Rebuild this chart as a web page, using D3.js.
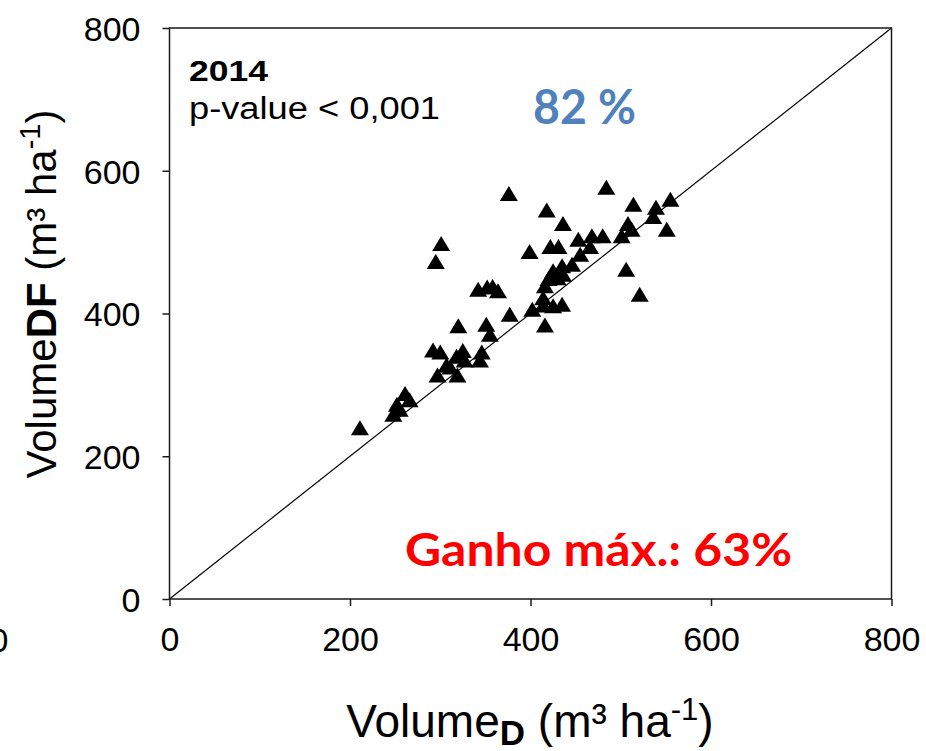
<!DOCTYPE html>
<html>
<head>
<meta charset="utf-8">
<script src="https://cdn.jsdelivr.net/npm/d3@7"></script>
<style>
  body { margin: 0; background: #fff; }
  svg { display: block; }
  text { font-family: "Liberation Sans", Arial, sans-serif; }
</style>
</head>
<body>
<div id="chart"></div>
<script>
// Observed stand volumes, 2014: D (x) against DF (y), m³ ha-1
const volumeD = [211, 248, 252, 261, 266, 255, 292, 300, 307, 297, 311, 319, 325, 327, 320,
  344, 346, 351, 355, 295, 301, 342, 352, 358, 364, 377, 376, 399, 402, 414, 416, 418, 422,
  431, 425, 435, 414, 416, 420, 425, 436, 435, 446, 436, 453, 455, 466, 468, 480, 484, 501,
  508, 512, 514, 506, 521, 539, 536, 555, 551, 318, 430];
const volumeDF = [240, 259, 273, 288, 279, 266, 349, 346, 328, 314, 325, 314, 348, 335, 383,
  335, 346, 385, 371, 473, 498, 434, 437, 438, 432, 399, 568, 487, 406, 412, 384, 545, 494,
  494, 411, 413, 422, 439, 449, 460, 455, 467, 469, 526, 504, 483, 494, 509, 509, 577, 509,
  526, 518, 553, 462, 427, 549, 536, 560, 518, 340, 450];
const xTicks = [0, 200, 400, 600, 800];
const yTicks = [0, 200, 400, 600, 800];

const W = 926, H = 751;
const svg = d3.select("#chart").append("svg").attr("width", W).attr("height", H);

const x = d3.scaleLinear().domain([0, 800]).range([169.5, 891.5]);
const y = d3.scaleLinear().domain([0, 800]).range([599, 28]);
const axisColor = "#1a1a1a";

// 1:1 reference line
svg.append("line")
  .attr("x1", x(0)).attr("y1", y(0)).attr("x2", x(800)).attr("y2", y(800))
  .attr("stroke", "#000").attr("stroke-width", 1.2);

// Axes: left + bottom with outward ticks, plus a closing frame
const yAxis = d3.axisLeft(y).tickValues(yTicks).tickSize(7).tickPadding(22).tickFormat(d3.format("d"));
const xAxis = d3.axisBottom(x).tickValues(xTicks).tickSize(7).tickPadding(21).tickFormat(d3.format("d"));

const gy = svg.append("g").attr("transform", `translate(${x(0)},0)`).call(yAxis);
const gx = svg.append("g").attr("transform", `translate(0,${y(0)})`).call(xAxis);
[gx, gy].forEach(g => {
  g.select(".domain").remove();
  g.selectAll(".tick line").attr("stroke", axisColor).attr("stroke-width", 1.5);
  g.selectAll(".tick text").attr("fill", "#000").style("font-size", "34px")
    .style("font-family", "'Liberation Sans', Arial, sans-serif");
});
gy.selectAll(".tick text").attr("dy", "0.36em");
gx.selectAll(".tick text").attr("dy", "0.72em");

// label partly outside the left edge of the x axis row
svg.append("text").attr("x", x(-189)).attr("y", y(0) + 53)
  .attr("text-anchor", "middle").style("font-size", "34px").text("0");

// plot frame
svg.append("rect")
  .attr("x", x(0)).attr("y", y(800))
  .attr("width", x(800) - x(0)).attr("height", y(0) - y(800))
  .attr("fill", "none").attr("stroke", axisColor).attr("stroke-width", 1.5);

// Triangle markers centred on their bounding box
const tw = 18, th = 15;
const tri = `M0,${-th / 2}L${tw / 2},${th / 2}L${-tw / 2},${th / 2}Z`;
svg.append("g").selectAll("path")
  .data(volumeD.map((d, i) => [d, volumeDF[i]]))
  .join("path")
  .attr("d", tri)
  .attr("transform", d => `translate(${x(d[0])},${y(d[1])})`)
  .attr("fill", "#000");

// Annotations
svg.append("text").attr("x", 189).attr("y", 81)
  .style("font-size", "30px").style("font-weight", "bold")
  .attr("textLength", 79).attr("lengthAdjust", "spacingAndGlyphs").text("2014");
svg.append("text").attr("x", 189).attr("y", 119)
  .style("font-size", "31px")
  .attr("textLength", 251).attr("lengthAdjust", "spacingAndGlyphs").text("p-value < 0,001");

svg.append("text").attr("x", 533).attr("y", 124)
  .style("font-family", "Lato, 'Open Sans', sans-serif").style("font-size", "48px")
  .style("font-weight", "bold").attr("fill", "#4F81BD")
  .attr("textLength", 103).attr("lengthAdjust", "spacingAndGlyphs").text("82 %");

svg.append("text").attr("x", 405).attr("y", 566)
  .style("font-family", "Lato, 'Open Sans', sans-serif").style("font-size", "45px")
  .style("font-weight", "bold").attr("fill", "#FF0000")
  .attr("textLength", 387).attr("lengthAdjust", "spacingAndGlyphs").text("Ganho máx.: 63%");

// X axis title: VolumeD (m³ ha-1)
const xt = svg.append("text").attr("x", 530).attr("y", 737)
  .attr("text-anchor", "middle").style("font-size", "46px");
xt.append("tspan").text("Volume");
xt.append("tspan").attr("dy", 8).style("font-weight", "bold").style("font-size", "35px").text("D");
xt.append("tspan").attr("dy", -8).text(" (m³ ha");
xt.append("tspan").attr("dy", -17).style("font-size", "31px").text("-1");
xt.append("tspan").attr("dy", 17).text(")");

// Y axis title: VolumeDF (m³ ha-1)
const yt = svg.append("text").attr("transform", `translate(56,294) rotate(-90)`)
  .attr("text-anchor", "middle").style("font-size", "42px");
yt.append("tspan").text("Volume");
yt.append("tspan").style("font-weight", "bold").text("DF");
yt.append("tspan").text(" (m³ ha");
yt.append("tspan").attr("dy", -16).style("font-size", "29px").text("-1");
yt.append("tspan").attr("dy", 16).text(")");
</script>
</body>
</html>
